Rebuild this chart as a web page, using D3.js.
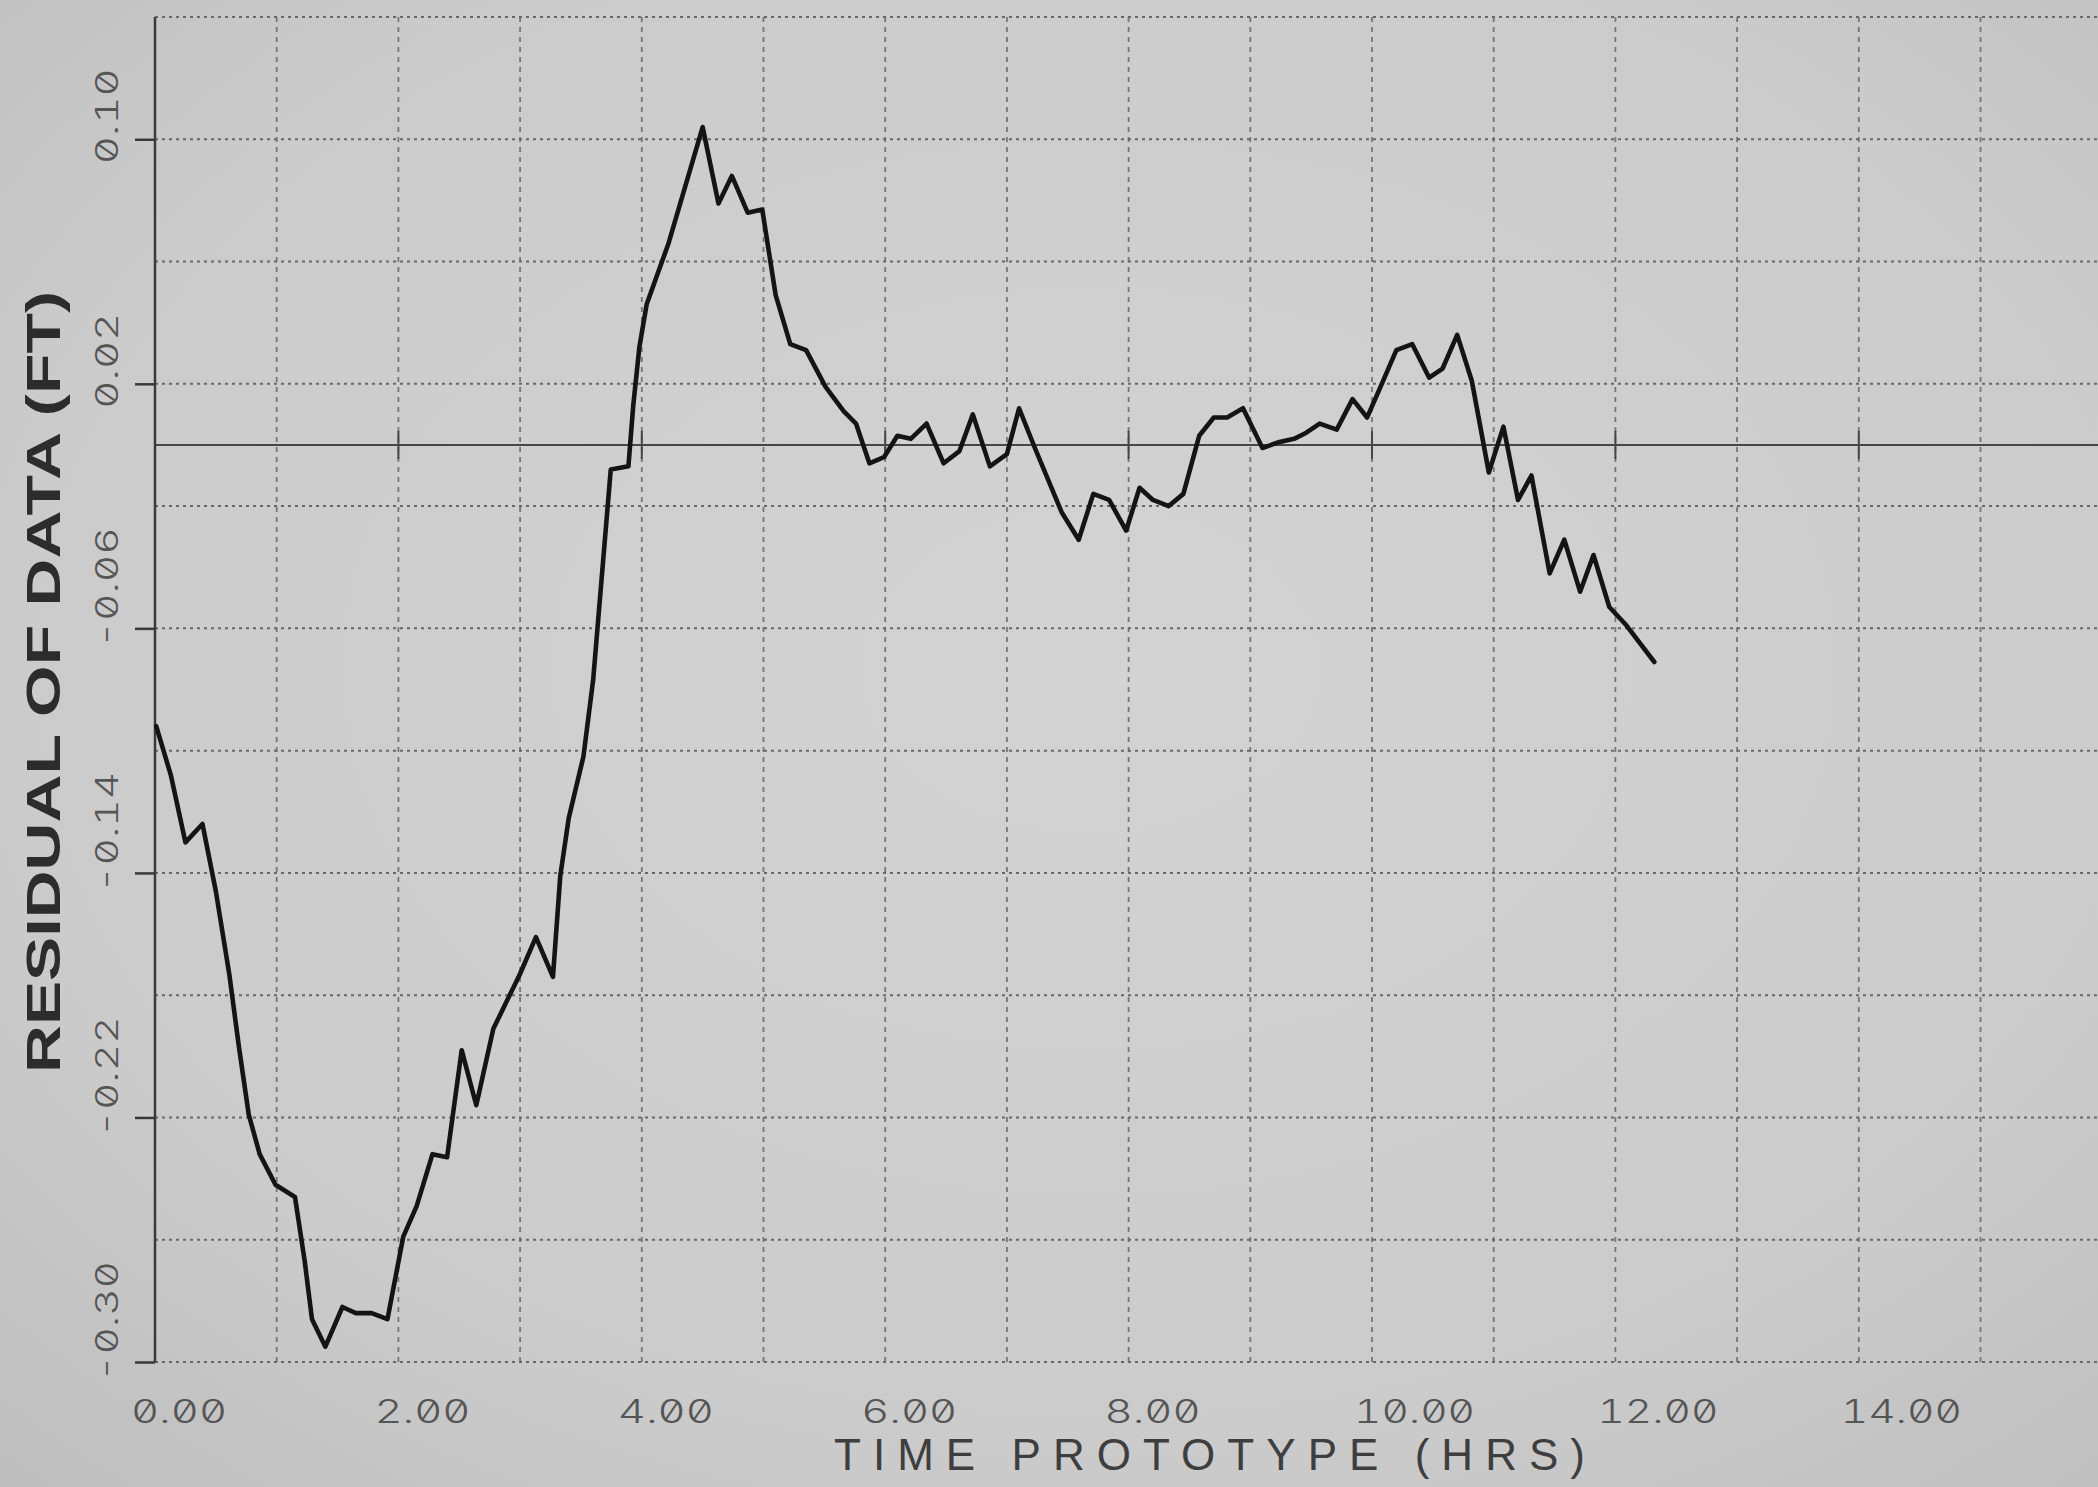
<!DOCTYPE html>
<html>
<head>
<meta charset="utf-8">
<script src="https://cdn.jsdelivr.net/npm/d3@7"></script>
<style>
  html, body { margin: 0; padding: 0; background: #c8c8c8; overflow: hidden; }
  svg { display: block; }
</style>
</head>
<body>
<svg id="chart" width="2098" height="1487"></svg>
<script>
// ---- data ----
const hours = [
  0.01, 0.13, 0.25, 0.39, 0.50, 0.61, 0.69, 0.77, 0.86, 0.99,
  1.15, 1.23, 1.29, 1.40, 1.54, 1.65, 1.78, 1.91, 2.04, 2.15,
  2.28, 2.40, 2.52, 2.64, 2.78, 2.89, 3.00, 3.13, 3.27, 3.33,
  3.40, 3.52, 3.60, 3.745, 3.89, 3.93, 3.98, 4.04, 4.22, 4.50,
  4.63, 4.74, 4.87, 4.99, 5.10, 5.22, 5.35, 5.51, 5.66, 5.76,
  5.87, 5.99, 6.10, 6.21, 6.34, 6.48, 6.61, 6.72, 6.86, 7.00,
  7.10, 7.23, 7.45, 7.59, 7.71, 7.84, 7.98, 8.09, 8.20, 8.33,
  8.45, 8.58, 8.70, 8.81, 8.94, 9.10, 9.24, 9.36, 9.46, 9.57,
  9.71, 9.84, 9.96, 10.07, 10.20, 10.33, 10.47, 10.58, 10.70, 10.82,
  10.96, 11.08, 11.20, 11.31, 11.46, 11.58, 11.71, 11.82, 11.95, 12.09,
  12.32
];
const residual = [
  -0.092, -0.108, -0.130, -0.124, -0.146, -0.173, -0.197, -0.219, -0.232, -0.242,
  -0.246, -0.267, -0.286, -0.295, -0.282, -0.284, -0.284, -0.286, -0.259, -0.249,
  -0.232, -0.233, -0.198, -0.216, -0.191, -0.182, -0.173, -0.161, -0.174, -0.141,
  -0.122, -0.102, -0.077, -0.008, -0.007, 0.013, 0.032, 0.046, 0.066, 0.104,
  0.079, 0.088, 0.076, 0.077, 0.049, 0.033, 0.031, 0.019, 0.011, 0.007,
  -0.006, -0.004, 0.003, 0.002, 0.007, -0.006, -0.002, 0.010, -0.007, -0.003,
  0.012, -0.001, -0.022, -0.031, -0.016, -0.018, -0.028, -0.014, -0.018, -0.020,
  -0.016, 0.003, 0.009, 0.009, 0.012, -0.001, 0.001, 0.002, 0.004, 0.007,
  0.005, 0.015, 0.009, 0.019, 0.031, 0.033, 0.022, 0.025, 0.036, 0.021,
  -0.009, 0.006, -0.018, -0.010, -0.042, -0.031, -0.048, -0.036, -0.053, -0.059,
  -0.071
];
const xTickValues = [0, 2, 4, 6, 8, 10, 12, 14];
const xTickLabels = ["0.00", "2.00", "4.00", "6.00", "8.00", "10.00", "12.00", "14.00"];
const yTickValues = [0.10, 0.02, -0.06, -0.14, -0.22, -0.30];
const yTickLabels = ["0.10", "0.02", "-0.06", "-0.14", "-0.22", "-0.30"];
const xGridValues = [1, 2, 3, 4, 5, 6, 7, 8, 9, 10, 11, 12, 13, 14, 15, 16];
const yGridValues = [0.14, 0.10, 0.06, 0.02, -0.02, -0.06, -0.10, -0.14, -0.18, -0.22, -0.26, -0.30];
const xTitle = "TIME PROTOTYPE (HRS)";
const yTitle = "RESIDUAL OF DATA (FT)";

// ---- layout ----
const svg = d3.select("#chart");
const W = 2098, H = 1487;
const x = d3.scaleLinear().domain([0, 16]).range([155, 155 + 16 * 121.7]);
const y = d3.scaleLinear().domain([-0.30, 0.14]).range([1362, 17]);

// paper background
const defs = svg.append("defs");
const grad = defs.append("radialGradient").attr("id", "paper")
  .attr("cx", "52%").attr("cy", "45%").attr("r", "75%");
grad.append("stop").attr("offset", "0%").attr("stop-color", "#d3d3d3");
grad.append("stop").attr("offset", "70%").attr("stop-color", "#cbcbcb");
grad.append("stop").attr("offset", "100%").attr("stop-color", "#bebebe");
svg.append("rect").attr("width", W).attr("height", H).attr("fill", "url(#paper)");

// vertical grid lines
svg.append("g").selectAll("line").data(xGridValues).join("line")
  .attr("x1", d => x(d)).attr("x2", d => x(d))
  .attr("y1", y(0.14)).attr("y2", y(-0.30))
  .attr("stroke", "#767676").attr("stroke-width", 1.8)
  .attr("stroke-dasharray", "5,5");

// horizontal grid lines
svg.append("g").selectAll("line").data(yGridValues).join("line")
  .attr("x1", x(0)).attr("x2", W)
  .attr("y1", d => y(d)).attr("y2", d => y(d))
  .attr("stroke", "#686868").attr("stroke-width", 2)
  .attr("stroke-dasharray", "3,4");

// zero line
svg.append("line")
  .attr("x1", x(0)).attr("x2", W)
  .attr("y1", y(0)).attr("y2", y(0))
  .attr("stroke", "#464646").attr("stroke-width", 2);

// ticks on the zero line at labelled hours
svg.append("g").selectAll("line").data(xTickValues.filter(d => d > 0)).join("line")
  .attr("x1", d => x(d)).attr("x2", d => x(d))
  .attr("y1", y(0) - 14).attr("y2", y(0) + 14)
  .attr("stroke", "#464646").attr("stroke-width", 2);

// left axis with ticks
const yAxis = d3.axisLeft(y).tickValues(yTickValues).tickSize(20).tickFormat("");
const gy = svg.append("g").attr("transform", `translate(${x(0)},0)`).call(yAxis);
gy.select(".domain").remove();
gy.selectAll(".tick line").attr("stroke", "#3a3a3a").attr("stroke-width", 2.5);
svg.append("line")
  .attr("x1", x(0)).attr("x2", x(0))
  .attr("y1", y(0.14)).attr("y2", y(-0.30))
  .attr("stroke", "#3a3a3a").attr("stroke-width", 2.5);

// data line
const line = d3.line().x((d, i) => x(hours[i])).y(d => y(d));
svg.append("path").datum(residual)
  .attr("d", line)
  .attr("fill", "none")
  .attr("stroke", "#141414")
  .attr("stroke-width", 4.6)
  .attr("stroke-linejoin", "round")
  .attr("stroke-linecap", "round");

// x tick labels
const tickFont = "Inter, 'DejaVu Sans Mono', sans-serif";
svg.append("g").selectAll("text").data(xTickValues).join("text")
  .attr("x", (d, i) => x(d) - (xTickLabels[i].length > 4 ? 18 : 24))
  .attr("y", 1423)
  .attr("textLength", (d, i) => xTickLabels[i].length * 25 - 4)
  .attr("lengthAdjust", "spacingAndGlyphs")
  .style("font-family", tickFont)
  .style("font-weight", 300)
  .style("font-feature-settings", "'zero' 1, 'tnum' 1")
  .style("font-size", "32px")
  .attr("fill", "#555")
  .text((d, i) => xTickLabels[i]);

// y tick labels (rotated)
svg.append("g").selectAll("text").data(yTickValues).join("text")
  .attr("transform", (d, i) => {
    const off = yTickLabels[i].length > 4 ? 20 : 25;
    return `translate(118,${y(d) + off}) rotate(-90)`;
  })
  .attr("textLength", (d, i) => yTickLabels[i].length * 25 - 4)
  .attr("lengthAdjust", "spacingAndGlyphs")
  .style("font-family", tickFont)
  .style("font-weight", 300)
  .style("font-feature-settings", "'zero' 1, 'tnum' 1")
  .style("font-size", "31px")
  .attr("fill", "#555")
  .text((d, i) => yTickLabels[i]);

// x title
svg.append("text")
  .attr("x", 834).attr("y", 1470)
  .attr("textLength", 751).attr("lengthAdjust", "spacing")
  .style("font-family", "'Liberation Sans Narrow', 'Liberation Sans', sans-serif")
  .style("font-weight", 400)
  .style("font-size", "44px")
  .attr("fill", "#3e3e3e")
  .text(xTitle);

// y title
svg.append("text")
  .attr("transform", "translate(60,1073) rotate(-90)")
  .attr("textLength", 782).attr("lengthAdjust", "spacingAndGlyphs")
  .style("font-family", "'Liberation Sans', Arial, sans-serif")
  .style("font-weight", 700)
  .style("font-size", "48px")
  .attr("fill", "#2c2c2c")
  .text(yTitle);
</script>
</body>
</html>
